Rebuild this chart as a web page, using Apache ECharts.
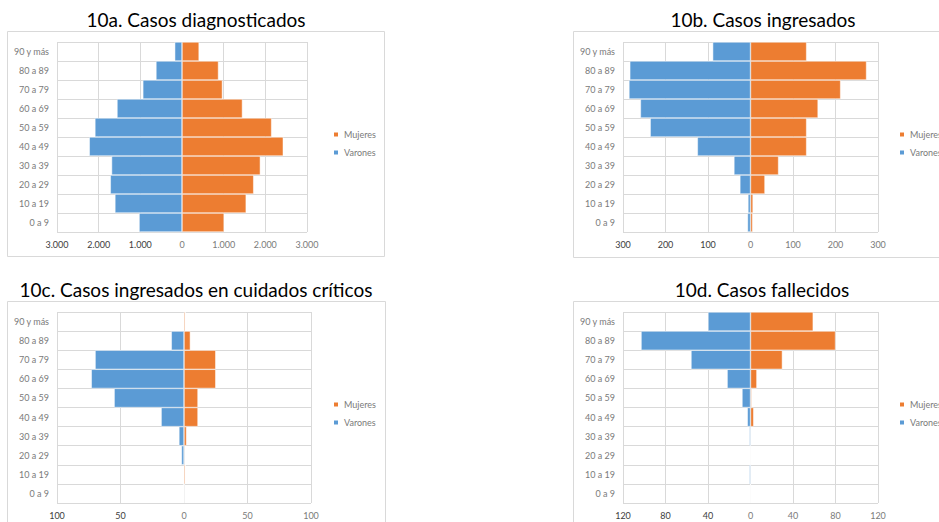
<!DOCTYPE html>
<html>
<head>
<meta charset="utf-8">
<script src="https://cdn.jsdelivr.net/npm/echarts@6/dist/echarts.min.js"></script>
<style>
html,body{margin:0;padding:0;background:#fff;}
#c{width:939px;height:522px;}
</style>
</head>
<body>
<div id="c"></div>
<script>
// Age groups, bottom to top
const categories = ['0 a 9','10 a 19','20 a 29','30 a 39','40 a 49','50 a 59','60 a 69','70 a 79','80 a 89','90 y más'];
const seriesNames = ['Mujeres','Varones'];

// 10a. Casos diagnosticados
const diagMujeres = [1010, 1540, 1720, 1880, 2430, 2150, 1450, 970, 875, 410];
const diagVarones = [1030, 1610, 1720, 1690, 2225, 2090, 1560, 940, 625, 175];
// 10b. Casos ingresados
const ingMujeres = [5, 6, 34, 66, 132, 132, 159, 212, 273, 132];
const ingVarones = [7, 6, 25, 39, 125, 236, 259, 286, 284, 89];
// 10c. Casos ingresados en cuidados críticos
const uciMujeres = [0, 1, 0, 2, 11, 11, 25, 25, 5, 1];
const uciVarones = [0, 0, 2, 4, 18, 55, 73, 70, 10, 0];
// 10d. Casos fallecidos
const fallMujeres = [0, 0, 0, 0, 3, 1, 6, 30, 80, 59];
const fallVarones = [0, 1, 0, 1, 3, 8, 22, 56, 103, 40];

const titles = ['10a. Casos diagnosticados','10b. Casos ingresados','10c. Casos ingresados en cuidados críticos','10d. Casos fallecidos'];
const axisMax = [3000, 300, 100, 120];
const axisStep = [1000, 100, 50, 40];

const panels = [
  {m: diagMujeres, v: diagVarones},
  {m: ingMujeres, v: ingVarones},
  {m: uciMujeres, v: uciVarones},
  {m: fallMujeres, v: fallVarones}
];

const FONT = 'Lato, "Open Sans", sans-serif';
const BLUE = '#5b9bd5', ORANGE = '#ed7d31', GRID = '#d9d9d9', LABEL = '#7a7a7a';

const fmt = v => String(Math.abs(v)).replace(/\B(?=(\d{3})+(?!\d))/g, '.');

const grids = [
  {left: 57, top: 42, width: 250, height: 190},
  {left: 623, top: 42, width: 255, height: 190},
  {left: 57, top: 312, width: 254, height: 191},
  {left: 623, top: 312, width: 255, height: 191}
];

const xAxis = [], yAxis = [], series = [], legend = [];
const legendPos = [[332, 128.5], [898, 128.5], [332, 398.5], [898, 398.5]];

panels.forEach((p, i) => {
  xAxis.push({
    type: 'value', gridIndex: i,
    min: -axisMax[i], max: axisMax[i], interval: axisStep[i],
    axisLine: {show: false}, axisTick: {show: false},
    splitLine: {show: true, lineStyle: {color: GRID, width: 1}},
    axisLabel: {
      fontFamily: FONT, fontSize: 9, margin: 8,
      color: v => (v < 0 ? '#3c3c3c' : LABEL),
      formatter: fmt
    }
  });
  yAxis.push({
    type: 'category', gridIndex: i, data: categories,
    axisLine: {show: false}, axisTick: {show: false},
    splitLine: {show: true, lineStyle: {color: GRID, width: 1}},
    axisLabel: {fontFamily: FONT, fontSize: 9, color: LABEL, margin: 8}
  });
  series.push({
    type: 'bar', name: seriesNames[0], xAxisIndex: i, yAxisIndex: i,
    stack: 's' + i, data: p.m, barCategoryGap: '0%',
    itemStyle: {color: ORANGE, borderColor: '#fff', borderWidth: 0.5},
    emphasis: {disabled: true}
  });
  series.push({
    type: 'bar', name: seriesNames[1], xAxisIndex: i, yAxisIndex: i,
    stack: 's' + i, data: p.v.map(x => -x), barCategoryGap: '0%',
    itemStyle: {color: BLUE, borderColor: '#fff', borderWidth: 0.5},
    emphasis: {disabled: true}
  });
  legend.push({
    data: seriesNames, orient: 'vertical',
    left: legendPos[i][0], top: legendPos[i][1], padding: 0,
    icon: 'rect', itemWidth: 6, itemHeight: 6, itemGap: 6,
    selectedMode: false,
    textStyle: {fontFamily: FONT, fontSize: 9, color: LABEL, lineHeight: 12}
  });
});

const frames = [
  [7.5, 31.5, 377, 225],
  [573.5, 31.5, 400, 226],
  [7.5, 301.5, 378, 260],
  [573.5, 301.5, 400, 260]
];
const titlePos = [[196, 19.5], [763, 19.5], [196, 289.5], [762, 289.5]];

const graphic = [];
frames.forEach(f => graphic.push({
  type: 'rect', z: -10, silent: true,
  shape: {x: f[0], y: f[1], width: f[2], height: f[3]},
  style: {fill: '#fff', stroke: GRID, lineWidth: 1}
}));
titles.forEach((t, i) => graphic.push({
  type: 'text', x: titlePos[i][0], y: titlePos[i][1], silent: true,
  style: {text: t, textAlign: 'center', textVerticalAlign: 'middle',
          font: '19px ' + FONT, fill: '#000'}
}));

const chart = echarts.init(document.getElementById('c'), null, {renderer: 'svg'});
chart.setOption({
  animation: false,
  backgroundColor: '#fff',
  grid: grids, xAxis, yAxis, series, legend, graphic
});
</script>
</body>
</html>
